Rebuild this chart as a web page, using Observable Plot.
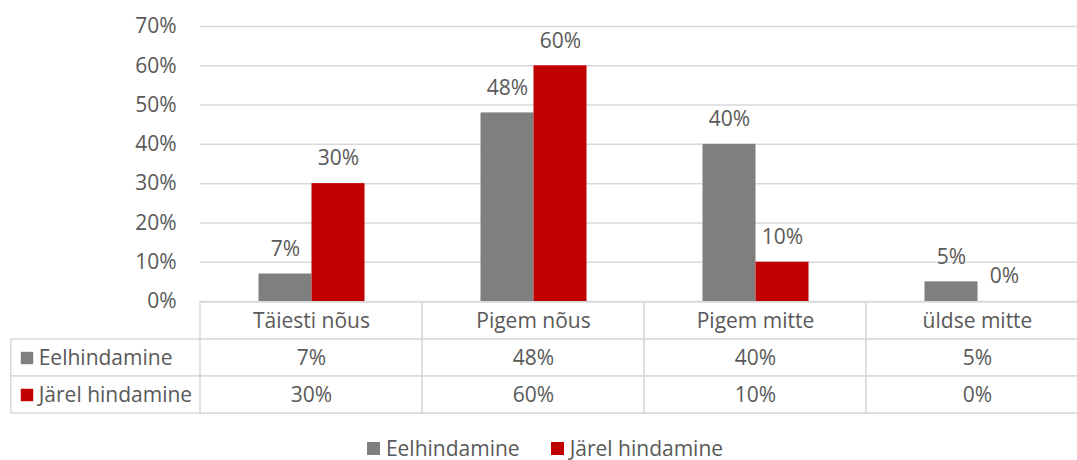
<!DOCTYPE html>
<html>
<head>
<meta charset="utf-8">
<script src="https://cdn.jsdelivr.net/npm/d3@7"></script>
<script src="https://cdn.jsdelivr.net/npm/@observablehq/plot@0.6"></script>
<style>
  html, body { margin: 0; padding: 0; background: white; overflow: hidden; }
  #chart svg { display: block; }
  #chart svg.tbl { margin-top: -16px; }
  #legend { display: flex; justify-content: center; gap: 31px; font-family: "Open Sans", sans-serif; font-size: 21px; color: #595959; margin-top: 19px; padding-left: 13px; line-height: 24px; }
  #legend .item { display: flex; align-items: center; }
  #legend .sw { display: inline-block; width: 13px; height: 13px; margin-right: 6px; }
</style>
</head>
<body>
<div id="chart"></div>
<script>
const categories = ["Täiesti nõus", "Pigem nõus", "Pigem mitte", "üldse mitte"];
const seriesNames = ["Eelhindamine", "Järel hindamine"];
const eelValues = [0.07, 0.48, 0.40, 0.05];
const jarelValues = [0.30, 0.60, 0.10, 0.00];
const colors = ["#7f7f7f", "#c00000"];
const yTicks = [0, 0.1, 0.2, 0.3, 0.4, 0.5, 0.6, 0.7];

const seriesValues = [eelValues, jarelValues];
const data = categories.flatMap((c, i) => seriesNames.map((s, j) => ({category: c, series: s, value: seriesValues[j][i]})));
const pct = d3.format(".0%");
const textColor = "#595959";
const gridColor = "#d9d9d9";
const font = {fontFamily: "Open Sans", fontSize: "21px", color: textColor};

const main = Plot.plot({
  width: 1077,
  height: 317,
  marginLeft: 199.5,
  marginRight: -10.5,
  marginTop: 26,
  marginBottom: 16,
  style: {...font, background: "white"},
  fx: {domain: categories, padding: 0, axis: null, label: null},
  x: {domain: seriesNames, paddingInner: 0, paddingOuter: 1.094, axis: null},
  y: {domain: [0, 0.7], ticks: 7, tickFormat: pct, tickSize: 0, tickPadding: 24, label: null},
  color: {domain: seriesNames, range: colors},
  marks: [
    Plot.ruleY(yTicks, {y: d => d, stroke: gridColor, strokeWidth: 1.5, strokeOpacity: 1}),
    Plot.barY(data, {fx: "category", x: "series", y: "value", fill: "series", inset: 0}),
    Plot.text(data, {fx: "category", x: "series", y: "value", text: d => pct(d.value), dy: -25, fill: textColor})
  ]
});

const tableCells = categories.flatMap((c, i) => [
  {category: c, row: "cat", text: c},
  ...seriesNames.map((s, j) => ({category: c, row: s, text: pct(seriesValues[j][i])}))
]);

const table = Plot.plot({
  width: 1077,
  height: 116,
  marginLeft: 10.7,
  marginRight: -10.5,
  marginTop: 0,
  marginBottom: 3,
  style: {...font, background: "transparent"},
  x: {domain: categories, range: [199.5, 1087.5], padding: 0, axis: null},
  y: {domain: ["cat", ...seriesNames], padding: 0, axis: null},
  color: {domain: seriesNames, range: colors},
  marks: [
    Plot.cell(seriesNames, {y: d => d, fill: "white", stroke: gridColor, strokeWidth: 1.5, inset: 0}),
    Plot.cell(tableCells, {x: "category", y: "row", fill: "white", stroke: gridColor, strokeWidth: 1.5, inset: 0}),
    Plot.text(tableCells, {x: "category", y: "row", text: "text", fill: textColor}),
    Plot.text(seriesNames, {y: d => d, text: d => d, frameAnchor: "left", dx: 27.5, textAnchor: "start", fill: textColor}),
    Plot.dot(seriesNames, {y: d => d, frameAnchor: "left", dx: 15.8, symbol: "square", r: 7, fill: d => d})
  ]
});
table.classList.add("tbl");

const chart = document.getElementById("chart");
chart.append(main, table);

const legend = document.createElement("div");
legend.id = "legend";
seriesNames.forEach((s, i) => {
  const item = document.createElement("span");
  item.className = "item";
  const sw = document.createElement("span");
  sw.className = "sw";
  sw.style.background = colors[i];
  item.append(sw, document.createTextNode(s));
  legend.append(item);
});
document.body.append(legend);
</script>
</body>
</html>
